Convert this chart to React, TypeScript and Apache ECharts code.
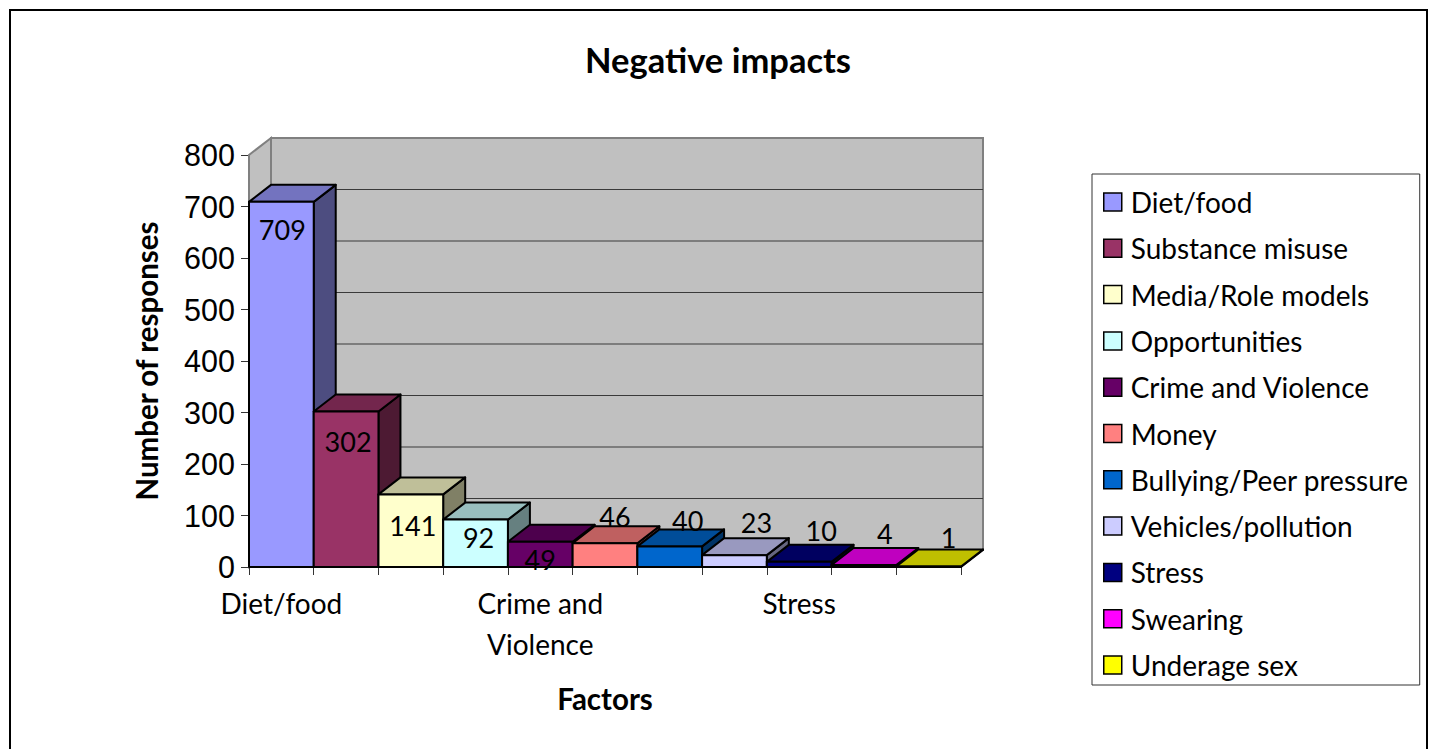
import React, { useEffect, useRef } from "react";
import * as echarts from "echarts";

const factors = [
  "Diet/food",
  "Substance misuse",
  "Media/Role models",
  "Opportunities",
  "Crime and Violence",
  "Money",
  "Bullying/Peer pressure",
  "Vehicles/pollution",
  "Stress",
  "Swearing",
  "Underage sex",
];
const responses = [709, 302, 141, 92, 49, 46, 40, 23, 10, 4, 1];
const faceColors = [
  "#9999FF",
  "#993366",
  "#FFFFCC",
  "#CCFFFF",
  "#660066",
  "#FF8080",
  "#0066CC",
  "#CCCCFF",
  "#000080",
  "#FF00FF",
  "#FFFF00",
];
const valueTicks = [0, 100, 200, 300, 400, 500, 600, 700, 800];

// Oblique projection of the box depth, in pixels.
const DEPTH_X = 22;
const DEPTH_Y = -17;

// Where each value label sits relative to the middle of its bar's top edge.
const labelOffsets: [number, number][] = [
  [1, 28],
  [2, 30],
  [2, 31],
  [3, 18],
  [0, 18],
  [10, -27],
  [18, -26],
  [22, -33],
  [22, -31],
  [21, -31],
  [20, -29],
];

const TEXT_FONT = "Lato";
const AXIS_FONT = "Liberation Sans";

function shade(hex: string, k: number) {
  const n = parseInt(hex.slice(1), 16);
  const c = [(n >> 16) & 255, (n >> 8) & 255, n & 255].map((v) => Math.round(v * k));
  return `rgb(${c[0]},${c[1]},${c[2]})`;
}

// Back wall, side wall and gridlines of the 3D box.
function renderWalls(params: any, api: any) {
  const cs = params.coordSys;
  const left = cs.x;
  const right = cs.x + cs.width;
  const top = cs.y;
  const bottom = cs.y + cs.height;
  const wallStroke = { stroke: "#808080", lineWidth: 2, fill: "#C0C0C0" };
  const gridLines = valueTicks.slice(1, -1).map((t) => {
    const y = api.coord([0, t])[1] + DEPTH_Y;
    return {
      type: "line",
      shape: { x1: left + DEPTH_X, y1: y, x2: right + DEPTH_X, y2: y },
      style: { stroke: "#3a3a3a", lineWidth: 1 },
    };
  });
  return {
    type: "group",
    children: [
      {
        type: "polygon",
        shape: {
          points: [
            [left, bottom],
            [left, top],
            [left + DEPTH_X, top + DEPTH_Y],
            [left + DEPTH_X, bottom + DEPTH_Y],
          ],
        },
        style: wallStroke,
      },
      {
        type: "polygon",
        shape: {
          points: [
            [left, bottom],
            [left + DEPTH_X, bottom + DEPTH_Y],
            [right + DEPTH_X, bottom + DEPTH_Y],
            [right, bottom],
          ],
        },
        style: { fill: "#C0C0C0", stroke: "#808080", lineWidth: 1 },
      },
      {
        type: "rect",
        shape: { x: left + DEPTH_X, y: top + DEPTH_Y, width: cs.width, height: cs.height },
        style: wallStroke,
      },
      ...gridLines,
    ],
  };
}

// One extruded bar: front, top and side faces plus its value label.
function renderBox(index: number) {
  return (_params: any, api: any) => {
    const value = api.value(1);
    const [cx, yTop] = api.coord([api.value(0), value]);
    const yBase = api.coord([api.value(0), 0])[1];
    const w = api.size([1, 0])[0];
    const x0 = cx - w / 2;
    const x1 = cx + w / 2;
    const face = faceColors[index];
    const edge = { stroke: "#000", lineWidth: 2, lineJoin: "round" };
    const [ox, oy] = labelOffsets[index];
    return {
      type: "group",
      children: [
        {
          type: "polygon",
          shape: {
            points: [
              [x1, yTop],
              [x1 + DEPTH_X, yTop + DEPTH_Y],
              [x1 + DEPTH_X, yBase + DEPTH_Y],
              [x1, yBase],
            ],
          },
          style: { fill: shade(face, 0.5), ...edge },
        },
        {
          type: "polygon",
          shape: {
            points: [
              [x0, yTop],
              [x0 + DEPTH_X, yTop + DEPTH_Y],
              [x1 + DEPTH_X, yTop + DEPTH_Y],
              [x1, yTop],
            ],
          },
          style: { fill: shade(face, 0.75), ...edge },
        },
        {
          type: "rect",
          shape: { x: x0, y: yTop, width: w, height: yBase - yTop },
          style: { fill: face, ...edge },
        },
        {
          type: "text",
          z2: 100,
          style: {
            x: cx + ox,
            y: yTop + oy,
            text: String(value),
            fill: "#000",
            font: `27px ${TEXT_FONT}`,
            textAlign: "center",
            textVerticalAlign: "middle",
          },
        },
      ],
    };
  };
}

export default function App() {
  const ref = useRef<HTMLDivElement>(null);

  useEffect(() => {
    const chart = echarts.init(ref.current!, undefined, { renderer: "svg" });
    chart.setOption({
      animation: false,
      backgroundColor: "#fff",
      title: {
        text: "Negative impacts",
        left: 713,
        top: 37,
        textAlign: "center",
        textStyle: { fontFamily: TEXT_FONT, fontWeight: "bold", fontSize: 34.5, color: "#000" },
      },
      grid: { left: 249, top: 155, width: 712, height: 412 },
      xAxis: {
        type: "category",
        data: factors,
        name: "Factors",
        nameLocation: "middle",
        nameGap: 131,
        nameTextStyle: { fontFamily: TEXT_FONT, fontWeight: "bold", fontSize: 29.5, color: "#000", verticalAlign: "middle" },
        axisLine: { lineStyle: { color: "#000", width: 2 } },
        axisTick: { show: true, length: 8, interval: 0, lineStyle: { color: "#333", width: 1 } },
        axisLabel: {
          interval: 3,
          margin: 15,
          color: "#000",
          fontFamily: TEXT_FONT,
          fontSize: 28,
          lineHeight: 41,
          formatter: (v: string) => v.replace("Crime and ", "Crime and\n"),
        },
      },
      yAxis: {
        type: "value",
        min: 0,
        max: 800,
        interval: 100,
        name: "Number of responses",
        nameLocation: "middle",
        nameGap: 103,
        nameTextStyle: { fontFamily: TEXT_FONT, fontWeight: "bold", fontSize: 29.5, color: "#000", verticalAlign: "middle" },
        axisLine: { show: true, lineStyle: { color: "#333", width: 1 } },
        axisTick: { show: true, length: 8, lineStyle: { color: "#333", width: 1 } },
        splitLine: { show: false },
        axisLabel: { color: "#000", fontFamily: AXIS_FONT, fontSize: 30.5, margin: 14 },
      },
      legend: {
        orient: "vertical",
        left: 1092,
        top: 174,
        data: factors,
        icon: "rect",
        itemWidth: 18,
        itemHeight: 18,
        itemGap: 18.3,
        padding: [14, 11, 6, 11],
        borderColor: "#333",
        borderWidth: 1,
        backgroundColor: "#fff",
        selectedMode: false,
        itemStyle: { borderColor: "#000", borderWidth: 1.5 },
        textStyle: { fontFamily: TEXT_FONT, fontSize: 28, color: "#000", padding: [0, 0, 0, 4] },
      },
      graphic: [
        {
          type: "rect",
          silent: true,
          z: -1,
          shape: { x: 10, y: 10, width: 1417, height: 800 },
          style: { fill: "transparent", stroke: "#000", lineWidth: 2 },
        },
      ],
      series: [
        {
          type: "custom",
          name: "walls",
          coordinateSystem: "cartesian2d",
          renderItem: renderWalls,
          data: [[0, 0]],
          silent: true,
          z: 1,
        },
        ...factors.map((name, i) => ({
          type: "custom",
          name,
          coordinateSystem: "cartesian2d",
          renderItem: renderBox(i),
          itemStyle: { color: faceColors[i] },
          encode: { x: 0, y: 1 },
          data: [[name, responses[i]]],
          z: 2,
        })),
      ],
    });
    return () => chart.dispose();
  }, []);

  return <div ref={ref} style={{ position: "absolute", left: 0, top: 0, width: 1434, height: 749 }} />;
}
